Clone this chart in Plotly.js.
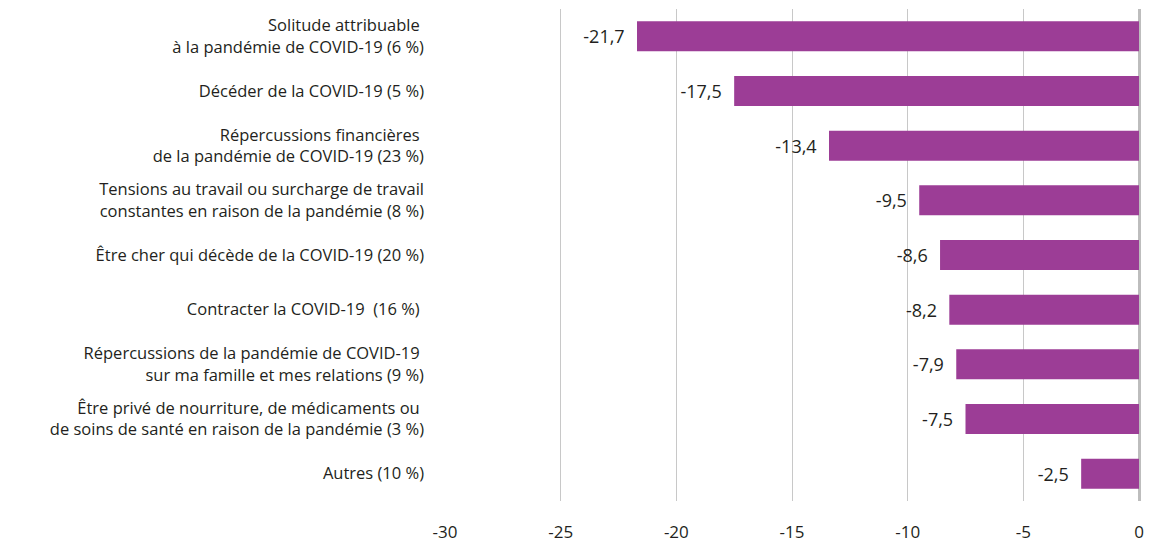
<!DOCTYPE html>
<html>
<head>
<meta charset="utf-8">
<script src="https://cdn.plot.ly/plotly-3.0.1.min.js"></script>
<style>html,body{margin:0;padding:0;background:#fff;}#chart{width:1152px;height:546px;}</style>
</head>
<body>
<div id="chart"></div>
<script>
const categories = [
  "Solitude attribuable <br>à la pandémie de COVID-19 (6 %)",
  "Décéder de la COVID-19 (5 %)",
  "Répercussions financières <br>de la pandémie de COVID-19 (23 %)",
  "Tensions au travail ou surcharge de travail<br>constantes en raison de la pandémie (8 %)",
  "Être cher qui décède de la COVID-19 (20 %)",
  "Contracter la COVID-19  (16 %) ",
  "Répercussions de la pandémie de COVID-19 <br>sur ma famille et mes relations (9 %)",
  "Être privé de nourriture, de médicaments ou <br>de soins de santé en raison de la pandémie (3 %)",
  "Autres (10 %)"
];
const values = [-21.7, -17.5, -13.4, -9.5, -8.6, -8.2, -7.9, -7.5, -2.5];
const xTickVals = [-30, -25, -20, -15, -10, -5, 0];
const xTickText = ["-30", "-25", "-20", "-15", "-10", "-5", "0"];

const fontFam = "'Open Sans', 'Noto Sans', sans-serif";
const trace = {
  type: 'bar',
  orientation: 'h',
  x: values,
  y: categories,
  marker: {color: '#9C3D96'},
  width: 0.55,
  text: values.map(v => String(v).replace('.', ',') + '  '),
  textposition: 'outside',
  textfont: {family: fontFam, size: 18, color: '#231f20'},
  cliponaxis: false,
  hoverinfo: 'none'
};
const layout = {
  width: 1152, height: 546,
  margin: {l: 445, r: 13, t: 9, b: 45},
  paper_bgcolor: '#fff', plot_bgcolor: '#fff',
  showlegend: false,
  font: {family: fontFam, color: '#231f20'},
  xaxis: {
    range: [-30, 0],
    tickvals: xTickVals, ticktext: xTickText,
    showgrid: true, gridcolor: '#c8c8c8', gridwidth: 1,
    zeroline: true, zerolinecolor: '#bdbdbd', zerolinewidth: 3,
    showline: false, ticks: '',
    tickfont: {family: fontFam, size: 17, color: '#231f20'},
    ticklabelstandoff: 19,
    fixedrange: true
  },
  yaxis: {
    autorange: 'reversed',
    showgrid: false, zeroline: false, showline: false, ticks: '',
    tickfont: {family: fontFam, size: 16.5, color: '#231f20'},
    ticklabelstandoff: 20,
    fixedrange: true
  }
};
Plotly.newPlot('chart', [trace], layout, {displayModeBar: false, staticPlot: true});
</script>
</body>
</html>
